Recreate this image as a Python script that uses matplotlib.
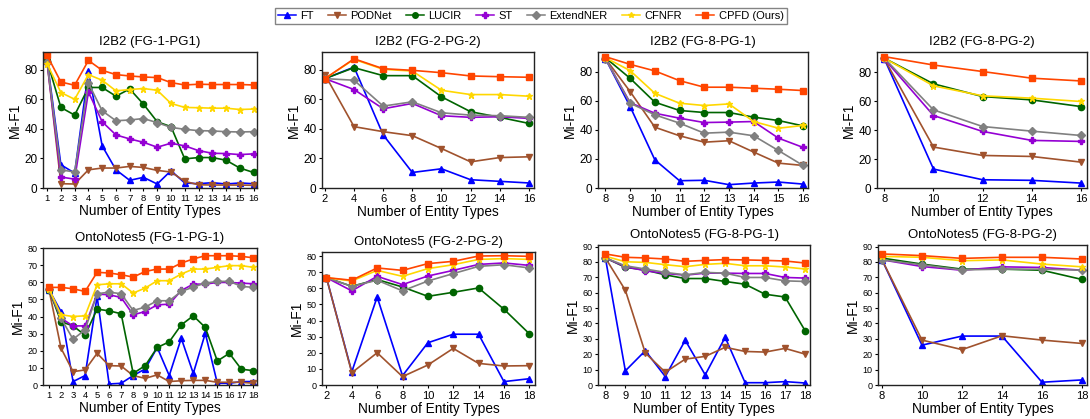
import matplotlib
matplotlib.use("Agg")
import matplotlib.pyplot as plt
from matplotlib.lines import Line2D

plt.rcParams['font.family'] = ['Liberation Sans', 'DejaVu Sans']

methods = ["FT", "PODNet", "LUCIR", "ST", "ExtendNER", "CFNFR", "CPFD (Ours)"]
colors = ["#0000FF", "#A0522D", "#006400", "#9400D3", "#808080", "#FFD700", "#FF4500"]
markers = ["^", "v", "o", "P", "D", "*", "s"]

# ---- I2B2 (FG-1-PG1) ----
x1 = list(range(1, 17))
i2b2_11 = {
    "FT":        [86.3, 15.7, 10.1, 79.1, 28.5, 12.3, 5.2, 7.2, 2.7, 11.7, 3.4, 2.9, 3.6, 2.7, 3.4, 2.9],
    "PODNet":    [85.0, 2.9, 2.7, 12.3, 13.5, 13.5, 14.6, 13.9, 11.9, 10.8, 4.5, 2.2, 2.0, 2.0, 2.0, 1.8],
    "LUCIR":     [85.9, 54.5, 49.3, 68.0, 68.0, 62.1, 67.0, 56.7, 44.8, 41.5, 19.7, 20.6, 20.6, 18.8, 13.5, 10.5],
    "ST":        [84.7, 7.4, 6.0, 65.0, 44.8, 35.9, 33.2, 30.9, 27.6, 30.3, 28.5, 25.3, 23.5, 23.3, 22.6, 23.1],
    "ExtendNER": [85.2, 12.3, 10.8, 71.0, 52.2, 45.5, 46.0, 47.0, 44.2, 41.0, 39.7, 38.8, 38.6, 38.1, 37.9, 38.1],
    "CFNFR":     [84.0, 64.6, 60.0, 76.7, 72.9, 65.7, 66.6, 67.3, 66.1, 57.2, 54.5, 54.3, 54.0, 54.0, 53.1, 53.4],
    "CPFD (Ours)": [89.7, 71.7, 69.5, 86.3, 79.6, 76.7, 75.8, 75.1, 74.7, 71.3, 69.7, 70.2, 70.0, 70.0, 70.0, 69.7],
}

# ---- I2B2 (FG-2-PG-2) ----
x2 = [2, 4, 6, 8, 10, 12, 14, 16]
i2b2_22 = {
    "FT":        [74.0, 81.8, 35.9, 10.5, 13.0, 5.6, 4.5, 3.4],
    "PODNet":    [76.7, 41.5, 38.1, 35.4, 26.7, 17.7, 20.6, 21.1],
    "LUCIR":     [74.0, 81.4, 76.0, 76.0, 61.7, 51.6, 47.8, 43.7],
    "ST":        [74.0, 66.6, 53.6, 57.2, 48.9, 47.8, 48.2, 47.1],
    "ExtendNER": [74.0, 72.9, 55.4, 58.3, 50.9, 49.3, 48.9, 47.8],
    "CFNFR":     [74.0, 87.0, 80.3, 79.1, 66.1, 63.2, 63.2, 62.1],
    "CPFD (Ours)": [74.0, 87.4, 80.7, 79.6, 78.0, 75.8, 75.3, 74.9],
}

# ---- I2B2 (FG-8-PG-1) ----
x3 = list(range(8, 17))
i2b2_81 = {
    "FT":        [89.0, 56.0, 19.4, 5.0, 5.3, 2.3, 3.4, 4.1, 2.7],
    "PODNet":    [89.0, 66.3, 41.8, 35.9, 31.5, 32.5, 24.7, 17.1, 15.5],
    "LUCIR":     [89.6, 75.4, 59.0, 53.3, 51.9, 51.9, 48.7, 46.4, 42.7],
    "ST":        [89.0, 58.7, 51.4, 48.0, 45.0, 45.3, 45.7, 34.3, 27.9],
    "ExtendNER": [89.0, 58.3, 50.3, 44.6, 37.7, 38.4, 35.9, 25.8, 15.5],
    "CFNFR":     [89.6, 80.7, 65.1, 58.3, 56.7, 57.8, 45.7, 41.1, 43.0],
    "CPFD (Ours)": [90.3, 85.0, 80.5, 73.8, 69.3, 69.3, 68.6, 67.9, 67.0],
}

# ---- I2B2 (FG-8-PG-2) ----
x4 = [8, 10, 12, 14, 16]
i2b2_82 = {
    "FT":        [89.2, 13.1, 5.7, 5.3, 3.4],
    "PODNet":    [89.2, 28.3, 22.5, 21.8, 17.9],
    "LUCIR":     [89.7, 72.0, 63.2, 60.9, 56.3],
    "ST":        [89.2, 50.1, 39.1, 32.9, 32.2],
    "ExtendNER": [89.7, 54.0, 42.5, 39.3, 36.3],
    "CFNFR":     [89.7, 70.6, 63.7, 62.1, 59.8],
    "CPFD (Ours)": [90.8, 85.0, 80.5, 75.9, 74.0],
}

# ---- OntoNotes5 (FG-1-PG-1) ----
x5 = list(range(1, 19))
onto_11 = {
    "FT":        [55.6, 42.9, 2.0, 5.5, 51.7, 0.6, 1.0, 5.5, 9.4, 21.9, 5.5, 27.3, 6.8, 30.2, 1.0, 1.0, 2.0, 2.0],
    "PODNet":    [55.6, 21.5, 7.8, 8.8, 18.5, 11.3, 11.1, 5.5, 3.9, 5.9, 2.0, 2.5, 2.7, 2.7, 1.6, 1.6, 1.6, 1.0],
    "LUCIR":     [55.6, 37.0, 34.5, 29.1, 44.3, 43.3, 41.6, 6.8, 11.3, 21.9, 25.2, 35.1, 40.4, 33.6, 14.0, 18.5, 9.2, 8.4],
    "ST":        [56.0, 39.0, 34.5, 34.5, 53.1, 52.7, 51.1, 41.0, 42.9, 46.8, 47.2, 55.2, 58.9, 58.9, 59.9, 59.9, 59.5, 59.1],
    "ExtendNER": [56.0, 39.0, 26.7, 32.2, 53.3, 54.2, 53.3, 43.5, 45.5, 49.2, 49.2, 54.6, 57.2, 59.5, 60.5, 60.5, 57.6, 57.0],
    "CFNFR":     [56.2, 41.0, 40.0, 40.4, 58.5, 59.1, 59.1, 53.7, 56.6, 60.9, 60.9, 64.8, 67.7, 67.7, 68.7, 69.7, 69.7, 68.7],
    "CPFD (Ours)": [57.0, 57.0, 56.2, 54.6, 65.8, 65.4, 64.4, 63.0, 66.3, 67.7, 67.7, 71.2, 73.6, 75.5, 75.5, 75.5, 75.1, 74.3],
}

# ---- OntoNotes5 (FG-2-PG-2) ----
x6 = [2, 4, 6, 8, 10, 12, 14, 16, 18]
onto_22 = {
    "FT":        [66.6, 8.2, 54.6, 5.8, 26.2, 31.5, 31.5, 2.1, 3.9],
    "PODNet":    [66.6, 7.6, 20.0, 5.2, 12.4, 22.7, 13.4, 11.8, 12.0],
    "LUCIR":     [66.6, 61.2, 65.4, 60.8, 55.0, 57.5, 60.2, 47.0, 31.8],
    "ST":        [66.6, 58.4, 67.4, 62.3, 67.6, 71.1, 74.8, 75.7, 74.2],
    "ExtendNER": [66.6, 61.2, 65.0, 58.4, 64.5, 69.1, 73.6, 74.6, 72.6],
    "CFNFR":     [66.6, 64.5, 71.1, 67.4, 72.2, 74.6, 77.9, 78.4, 77.9],
    "CPFD (Ours)": [66.6, 65.0, 72.6, 71.1, 75.3, 76.7, 80.0, 80.2, 79.8],
}

# ---- OntoNotes5 (FG-8-PG-1) ----
x7 = list(range(8, 19))
onto_81 = {
    "FT":        [82.6, 9.2, 22.3, 5.5, 29.1, 6.6, 31.0, 1.5, 1.5, 2.2, 1.3],
    "PODNet":    [82.6, 61.6, 20.8, 8.3, 16.8, 18.6, 24.5, 21.8, 21.4, 23.8, 20.1],
    "LUCIR":     [82.6, 76.5, 74.7, 71.6, 69.2, 69.2, 67.3, 65.5, 59.0, 57.2, 35.4],
    "ST":        [82.6, 76.9, 74.3, 72.5, 71.4, 72.7, 72.7, 72.5, 72.5, 69.9, 69.5],
    "ExtendNER": [82.6, 77.5, 75.4, 73.2, 71.6, 73.2, 72.7, 69.9, 69.9, 67.7, 67.3],
    "CFNFR":     [83.7, 80.1, 79.7, 78.2, 76.9, 78.4, 79.1, 77.5, 77.5, 76.7, 75.4],
    "CPFD (Ours)": [85.2, 83.0, 82.6, 81.9, 80.4, 81.0, 81.5, 81.3, 81.0, 80.6, 79.3],
}

# ---- OntoNotes5 (FG-8-PG-2) ----
x8 = [8, 10, 12, 14, 16, 18]
onto_82 = {
    "FT":        [81.4, 25.9, 31.8, 31.8, 1.8, 3.3],
    "PODNet":    [81.4, 29.2, 23.0, 32.0, 29.2, 27.0],
    "LUCIR":     [82.5, 78.6, 75.3, 75.3, 74.6, 68.6],
    "ST":        [81.4, 77.0, 74.6, 76.8, 76.4, 74.6],
    "ExtendNER": [81.4, 78.1, 74.8, 75.3, 75.3, 74.6],
    "CFNFR":     [83.6, 83.0, 80.8, 81.3, 78.6, 76.8],
    "CPFD (Ours)": [85.2, 84.1, 82.3, 83.0, 83.0, 81.9],
}

W, H = 1090, 419
fig = plt.figure(figsize=(W / 100, H / 100), dpi=100)

# title, x, data, box px (left, right, top, bottom), xlim, ylim, yticks, x tick font, y tick font
panels = [
    ("I2B2 (FG-1-PG1)", x1, i2b2_11, (43, 257, 52, 188), (0.7, 16.25), (0, 92), range(0, 81, 20), 6.8, 8.5),
    ("I2B2 (FG-2-PG-2)", x2, i2b2_22, (322, 534, 52, 188), (1.8, 16.35), (0, 92), range(0, 81, 20), 8, 8.5),
    ("I2B2 (FG-8-PG-1)", x3, i2b2_81, (598, 808, 52, 188), (7.7, 16.2), (0, 93.5), range(0, 81, 20), 8, 8.5),
    ("I2B2 (FG-8-PG-2)", x4, i2b2_82, (877, 1087, 52, 188), (7.7, 16.25), (0, 94), range(0, 81, 20), 8, 8.5),
    ("OntoNotes5 (FG-1-PG-1)", x5, onto_11, (43, 257, 248, 385), (0.5, 18.3), (0, 80), range(0, 81, 10), 6.8, 6.5),
    ("OntoNotes5 (FG-2-PG-2)", x6, onto_22, (322, 535, 252, 385), (1.65, 18.45), (0, 82.5), range(0, 81, 10), 8, 6.5),
    ("OntoNotes5 (FG-8-PG-1)", x7, onto_81, (598, 810, 245, 385), (7.63, 18.25), (0, 91), range(0, 91, 10), 8, 6.5),
    ("OntoNotes5 (FG-8-PG-2)", x8, onto_82, (878, 1087, 245, 385), (7.8, 18.25), (0, 91), range(0, 91, 10), 8, 6.5),
]

for title, xs, data, box, xl, yl, yt, xfs, yfs in panels:
    l, r, t, b = box
    ax = fig.add_axes([l / W, 1 - b / H, (r - l) / W, (b - t) / H])
    for name, c, m in zip(methods, colors, markers):
        ax.plot(xs, data[name], color=c, marker=m, markersize=4.5, linewidth=1.2)
    ax.set_xlim(*xl)
    ax.set_ylim(*yl)
    ax.set_xticks(xs)
    ax.set_yticks(list(yt))
    ax.tick_params(axis='x', labelsize=xfs, length=2.5, width=0.8, pad=1.5)
    ax.tick_params(axis='y', labelsize=yfs, length=2.5, width=0.8, pad=1.5)
    ax.set_title(title, fontsize=9.5, pad=5)
    ax.set_ylabel("Mi-F1", fontsize=10, labelpad=2)
    ax.set_xlabel("Number of Entity Types", fontsize=9.8, labelpad=1)
    for s in ax.spines.values():
        s.set_linewidth(1.0)
        s.set_color("#222222")

handles = [Line2D([], [], color=c, marker=m, markersize=4, linewidth=1.1)
           for c, m in zip(colors, markers)]
fig.legend(handles, methods, loc="upper center", bbox_to_anchor=(0.487, 0.995), ncol=7,
           fontsize=8, frameon=True, fancybox=False, edgecolor="#666666",
           handlelength=1.6, handletextpad=0.4, columnspacing=1.3, borderpad=0.3)

fig.savefig("out.png", dpi=100)
